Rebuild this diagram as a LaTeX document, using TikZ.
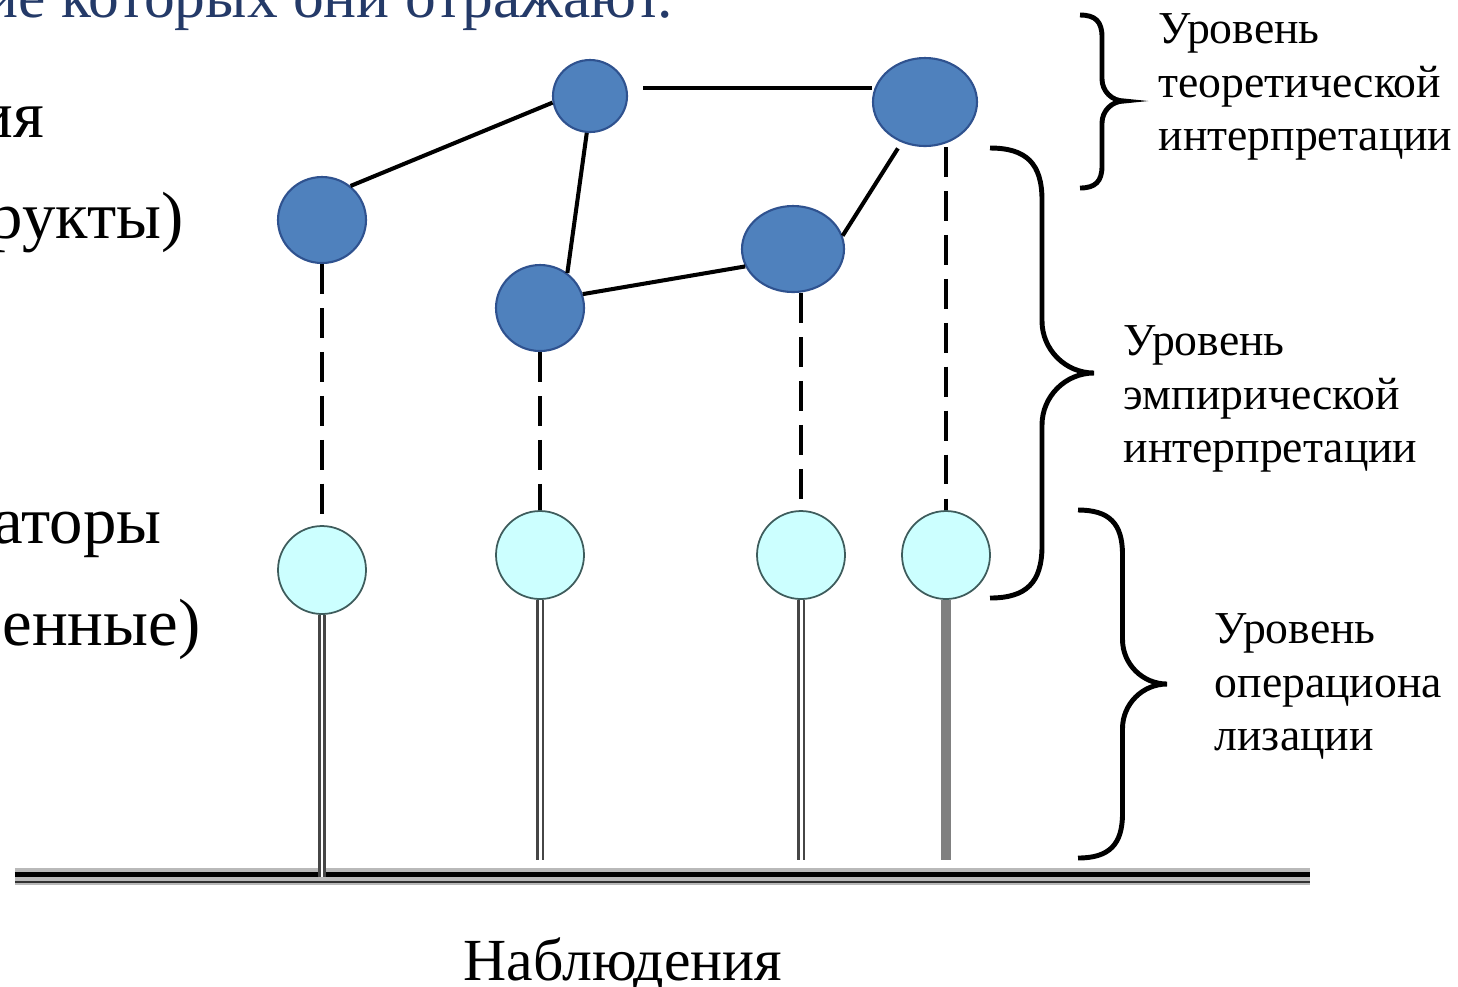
\documentclass[tikz,border=0pt]{standalone}
\usepackage{fontspec}
\setmainfont{Liberation Serif}
\usetikzlibrary{shapes.geometric}

\definecolor{constructblue}{RGB}{79,129,189}
\definecolor{constructedge}{RGB}{47,82,143}
\definecolor{indicatorcyan}{RGB}{204,255,255}
\definecolor{indicatoredge}{RGB}{62,92,92}
\definecolor{titlenavy}{RGB}{36,58,104}

% curly bracket on the right: x, y top, y tip, y bottom, radius
\newcommand{\levelbrace}[5]{%
  \draw[bracket] (#1,#2) .. controls +(0.7*#5,0) and +(0,0.7*#5) .. ++(#5,-#5)
    -- (#1+#5,#3+#5) .. controls +(0,-0.55*#5) and +(-0.55*#5,0) .. (#1+2*#5,#3)
    .. controls +(-0.55*#5,0) and +(0,0.55*#5) .. (#1+#5,#3-#5)
    -- (#1+#5,#4+#5) .. controls +(0,-0.7*#5) and +(0.7*#5,0) .. (#1,#4);}

\tikzset{
  construct/.style={ellipse,draw=constructedge,fill=constructblue,line width=0.6pt,inner sep=0pt},
  indicator/.style={circle,draw=indicatoredge,fill=indicatorcyan,line width=0.5pt,inner sep=0pt,minimum size=0.88cm},
  link/.style={line width=1.15pt},
  dashlink/.style={line width=1.25pt,dash pattern=on 8.5pt off 4pt},
  stem/.style={draw=gray!55!black,line width=0.7pt,double=white,double distance=0.85pt},
  bracket/.style={line width=1.4pt},
  level/.style={font=\fontsize{13}{15.2}\selectfont,align=left,inner sep=0pt},
  bigtext/.style={font=\fontsize{19}{22}\selectfont,inner sep=0pt}
}

\begin{document}
\begin{tikzpicture}
  \useasboundingbox (0,0) rectangle (14.58,-9.86);
  \clip (0,0) rectangle (14.58,-9.86);

  % cut-off slide text on the left
  \node[font=\fontsize{17.5}{21}\selectfont,inner sep=0pt,text=titlenavy,anchor=base east] (title) at (6.74,-0.17) {ие которых они отражают.};
  \node[bigtext,anchor=base east] (line1) at (0.45,-1.37) {ия};
  \node[bigtext,anchor=base east] (line2) at (1.84,-2.38) {рукты)};
  \node[bigtext,anchor=base east] (line3) at (1.62,-5.43) {аторы};
  \node[bigtext,anchor=base east] (line4) at (2.01,-6.45) {енные)};

  % theoretical constructs
  \node[construct,minimum width=0.88cm,minimum height=0.86cm] (A) at (3.22,-2.20) {};
  \node[construct,minimum width=0.74cm,minimum height=0.72cm] (B) at (5.90,-0.96) {};
  \node[construct,minimum width=1.04cm,minimum height=0.88cm] (C) at (9.25,-1.02) {};
  \node[construct,minimum width=0.88cm,minimum height=0.86cm] (D) at (5.40,-3.08) {};
  \node[construct,minimum width=1.02cm,minimum height=0.86cm] (E) at (7.93,-2.49) {};

  % indicators
  \node[indicator] (F1) at (3.22,-5.70) {};
  \node[indicator] (F2) at (5.40,-5.55) {};
  \node[indicator] (F3) at (8.01,-5.55) {};
  \node[indicator] (F4) at (9.46,-5.55) {};

  \draw[link] (A.50) -- (B.190);
  \draw[link,shorten <=1.6mm] (B.12) -- (B.12 -| C.west);
  \draw[link] (B.265) -- (D.52);
  \draw[link] (D.18) -- (E.200);
  \draw[link,shorten >=0.7mm] (E.15) -- (C.240);

  \draw[dashlink] (A.south) -- (F1.north);
  \draw[dashlink] (D.south) -- (F2.north);
  \draw[dashlink] (F3.north |- E.south) -- (F3.north);
  \draw[dashlink] (F4.north |- C.south) -- (F4.north);

  % observations
  \coordinate (ground west) at (0.15,-8.765);
  \coordinate (ground east) at (13.10,-8.765);
  \coordinate (stem end) at (0,-8.60);
  \draw[line width=4.8pt,gray!55] (ground west) -- (ground east);
  \draw[line width=1.4pt] ([yshift=0.5pt]ground west) -- ([yshift=0.5pt]ground east);
  \draw[line width=0.6pt,gray!40!black] ([yshift=-1.6pt]ground west) -- ([yshift=-1.6pt]ground east);

  \draw[stem] (F1.south) -- (F1.south |- ground west);
  \draw[stem] (F2.south) -- (F2.south |- stem end);
  \draw[stem] (F3.south) -- (F3.south |- stem end);
  \draw[line width=2.6pt,gray] (F4.south) -- (F4.south |- stem end);

  \node[font=\fontsize{17}{20}\selectfont,inner sep=0pt,anchor=base] (obs) at (6.23,-9.80) {Наблюдения};

  % levels
  \levelbrace{10.80}{-0.15}{-1.01}{-1.88}{0.22}
  \levelbrace{9.90}{-1.48}{-3.73}{-5.98}{0.52}
  \levelbrace{10.78}{-5.10}{-6.84}{-8.58}{0.445}

  \node[level,anchor=north west] (theory) at (11.58,-0.13) {Уровень\\теоретической\\интерпретации};
  \node[level,anchor=north west] (empiric) at (11.23,-3.25) {Уровень\\эмпирической\\интерпретации};
  \node[level,anchor=north west] (operation) at (12.14,-6.13) {Уровень\\операциона\\лизации};
\end{tikzpicture}
\end{document}
